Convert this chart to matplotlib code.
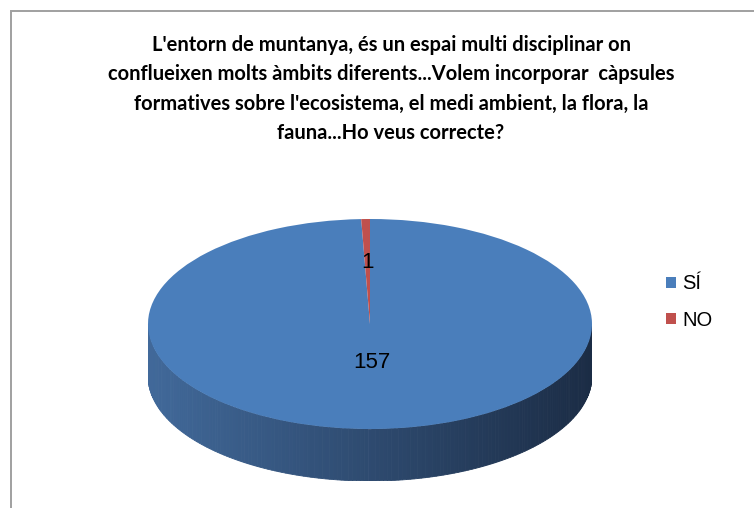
import numpy as np
import matplotlib.pyplot as plt
from matplotlib.patches import Polygon, Rectangle
from matplotlib.colors import to_rgb

# dades
labels = ["SÍ", "NO"]
values = [157, 1]
colors = ["#4a7ebb", "#c0504d"]
label_radius = [0.37, 0.59]

title_lines = [
    "L'entorn de muntanya, és un espai multi disciplinar on",
    "conflueixen molts àmbits diferents...Volem incorporar  càpsules",
    "formatives sobre l'ecosistema, el medi ambient, la flora, la",
    "fauna...Ho veus correcte?",
]

# colors del lateral (gradient d'esquerra a dreta)
side_left = to_rgb("#41699a")
side_right = to_rgb("#1b2c45")
depth = 0.495

fig = plt.figure(figsize=(7.54, 5.08), dpi=100)

# marc del gràfic
fig.patches.append(Rectangle((11 / 754, -0.1), 1.2, (508 - 11) / 508 + 0.1,
                             transform=fig.transFigure, fill=False,
                             edgecolor="#a0a0a0", linewidth=1.4))

fig.text(391 / 754, (508 - 35) / 508, "\n".join(title_lines),
         ha="center", va="top", fontsize=14.5, fontweight="bold",
         family="Lato", linespacing=1.58, color="black")

ax = fig.add_axes([148 / 754, 27 / 508, 444 / 754, 262 / 508])

wedges, _ = ax.pie(values, colors=colors, startangle=90, counterclock=False,
                   wedgeprops=dict(linewidth=0))
ax.set_aspect("auto")
ax.set_xlim(-1, 1)
ax.set_ylim(-1 - depth, 1)

# lateral 3D: només la part frontal (180..360 graus) de cada porció
total = sum(values)
start = 90.0
for v, c in zip(values, colors):
    end = start - 360.0 * v / total
    a0, a1 = min(start, end), max(start, end)
    for k in range(-1, 1):
        lo = max(a0, 180 + 360 * k)
        hi = min(a1, 360 + 360 * k)
        if hi <= lo:
            continue
        th = np.radians(np.linspace(lo, hi, int(hi - lo) + 2))
        for i in range(len(th) - 1):
            xs = np.cos([th[i], th[i + 1]])
            ys = np.sin([th[i], th[i + 1]])
            t = (xs.mean() + 1) / 2
            col = tuple(side_left[j] * (1 - t) + side_right[j] * t for j in range(3))
            poly = Polygon([[xs[0], ys[0]], [xs[1], ys[1]],
                            [xs[1], ys[1] - depth], [xs[0], ys[0] - depth]],
                           closed=True, facecolor=col, edgecolor=col,
                           linewidth=0.6, zorder=0.5)
            ax.add_patch(poly)
    start = end

# etiquetes de valors
start = 90.0
for v, r in zip(values, label_radius):
    mid = np.radians(start - 180.0 * v / total)
    ax.text(r * np.cos(mid), r * np.sin(mid), str(v), ha="center", va="center",
            fontsize=16, family="Liberation Sans", color="black", zorder=5)
    start -= 360.0 * v / total

fig.legend(wedges, labels, loc="center left",
           bbox_to_anchor=(648 / 754, (508 - 302) / 508),
           frameon=False, handlelength=0.5, handleheight=0.5,
           handletextpad=0.3, labelspacing=0.85,
           prop=dict(family="Liberation Sans", size=14.5))

fig.savefig("out.png", dpi=100)
